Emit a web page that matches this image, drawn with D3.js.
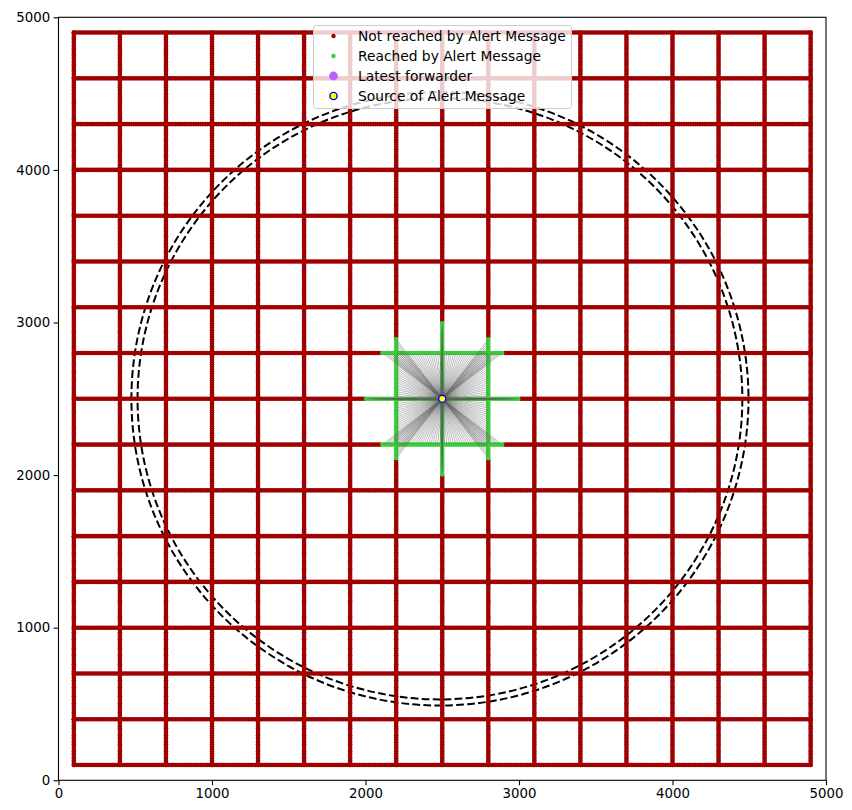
<!DOCTYPE html>
<html><head><meta charset="utf-8">
<script src="https://cdn.jsdelivr.net/npm/d3@7"></script>
<style>body{margin:0;background:#fff} text{font-family:"DejaVu Sans",sans-serif}</style>
</head><body><svg id="c" width="852" height="810"></svg>
<script>
// ---- data ----
const streetXs = [100,400,700,1000,1300,1600,1900,2200,2500,2800,3100,3400,3700,4000,4300,4600,4900];
const streetYs = [100,400,700,1000,1300,1600,1900,2200,2500,2800,3100,3400,3700,4000,4300,4600,4900];
const streetStart = 100, streetEnd = 4900, nodeStep = 15;
const source = {x: 2500, y: 2500};
const reachRadius = 500;
const rangeCenter = {x: 2485, y: 2500};
const rangeRadii = [1970, 2010];
const xTicks = [0,1000,2000,3000,4000,5000];
const yTicks = [0,1000,2000,3000,4000,5000];
const legendLabels = ["Not reached by Alert Message","Reached by Alert Message","Latest forwarder","Source of Alert Message"];

// ---- build nodes along streets ----
const nodes = [];
for (const sy of streetYs) for (let v = streetStart; v <= streetEnd; v += nodeStep) nodes.push({x: v, y: sy});
for (const sx of streetXs) for (let v = streetStart; v <= streetEnd; v += nodeStep) nodes.push({x: sx, y: v});
nodes.forEach(n => n.reached = Math.hypot(n.x - source.x, n.y - source.y) <= reachRadius);
const reached = nodes.filter(n => n.reached);
const notReached = nodes.filter(n => !n.reached);

// ---- scales ----
const svg = d3.select("#c");
const x = d3.scaleLinear([0,5000],[58.5,826]);
const y = d3.scaleLinear([0,5000],[780.3,17.3]);
const fs = "13.3px";

// range circles (drawn under nodes)
const sx = (x(1)-x(0)), sy = (y(0)-y(1));
svg.append("g").selectAll("ellipse").data(rangeRadii).join("ellipse")
  .attr("cx", x(rangeCenter.x)).attr("cy", y(rangeCenter.y))
  .attr("rx", r => r*sx).attr("ry", r => r*sy)
  .attr("fill","none").attr("stroke","#000").attr("stroke-width",2)
  .attr("stroke-dasharray", "7.7,3.3")
  .attr("stroke-dashoffset", (r,i) => i ? 3 : 0);

// not reached nodes
svg.append("g").selectAll("circle").data(notReached).join("circle")
  .attr("cx", d => x(d.x)).attr("cy", d => y(d.y)).attr("r", 2.3)
  .attr("fill","#a00000");

// reached nodes
svg.append("g").selectAll("circle").data(reached).join("circle")
  .attr("cx", d => x(d.x)).attr("cy", d => y(d.y)).attr("r", 2.3)
  .attr("fill","#3ad23a");

// forwarding links
svg.append("g").selectAll("line").data(reached).join("line")
  .attr("x1", x(source.x)).attr("y1", y(source.y))
  .attr("x2", d => x(d.x)).attr("y2", d => y(d.y))
  .attr("stroke","#606060").attr("stroke-opacity",0.7).attr("stroke-width",0.6);

// source
svg.append("circle").attr("cx", x(source.x)).attr("cy", y(source.y)).attr("r",3.6)
  .attr("fill","#ffff00").attr("stroke","#0000ff").attr("stroke-width",1.4);

// axes
const gx = svg.append("g").attr("transform",`translate(0,${y(0)})`)
  .call(d3.axisBottom(x).tickValues(xTicks).tickSize(4.9).tickPadding(3.5).tickFormat(d3.format("d")));
const gy = svg.append("g").attr("transform",`translate(${x(0)},0)`)
  .call(d3.axisLeft(y).tickValues(yTicks).tickSize(4.9).tickPadding(3.5).tickFormat(d3.format("d")));
[gx,gy].forEach(g => {
  g.select(".domain").remove();
  g.selectAll("text").attr("font-size",fs).attr("font-family","DejaVu Sans").attr("fill","#000");
  g.selectAll("line").attr("stroke","#000").attr("stroke-width",1.1);
});
svg.append("rect").attr("x",x(0)).attr("y",y(5000)).attr("width",x(5000)-x(0)).attr("height",y(0)-y(5000))
  .attr("fill","none").attr("stroke","#000").attr("stroke-width",1.1);

// legend
const lg = svg.append("g");
lg.append("rect").attr("x",313.5).attr("y",25.5).attr("width",258).attr("height",83).attr("rx",3)
  .attr("fill","#fff").attr("fill-opacity",0.8).attr("stroke","#cccccc").attr("stroke-width",1);
const rowsY = [36,56,76,96];
const marks = [
  {r:2.2, fill:"#a00000", stroke:"none", sw:0},
  {r:2.2, fill:"#3ad23a", stroke:"none", sw:0},
  {r:4.4, fill:"#bf5fff", stroke:"none", sw:0},
  {r:3.6, fill:"#ffff00", stroke:"#0000ff", sw:1.4}
];
legendLabels.forEach((t,i) => {
  lg.append("circle").attr("cx",333.5).attr("cy",rowsY[i]).attr("r",marks[i].r)
    .attr("fill",marks[i].fill).attr("stroke",marks[i].stroke).attr("stroke-width",marks[i].sw);
  lg.append("text").attr("x",358).attr("y",rowsY[i]).attr("dy","0.36em")
    .attr("font-size","13.8px").attr("fill","#000").text(t);
});
</script></body></html>
